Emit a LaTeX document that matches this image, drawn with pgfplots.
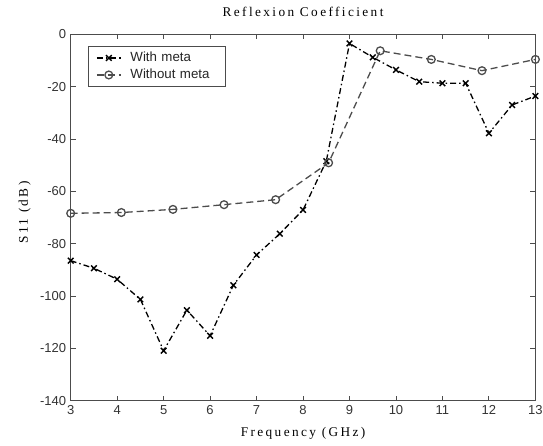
\documentclass[border=0pt]{standalone}
\usepackage{pgfplots}
\pgfplotsset{compat=1.18}
\usepackage{fontspec}
\setmainfont{Liberation Serif}
\newfontfamily\labelfont[LetterSpace=18]{Liberation Serif}
\newfontfamily\arial{Liberation Sans}
\begin{document}
\begin{tikzpicture}[x=1pt,y=1pt]
% frame of the whole picture, in reference pixels
\useasboundingbox (-70.7,-45.3) rectangle (472.3,400.7);
\begin{axis}[
    at={(0,0)}, anchor=south west,
    scale only axis,
    width=464.7pt,
    height=366.4pt,
    xmin=3, xmax=13,
    ymin=-140, ymax=0,
    xtick={3,4,...,13},
    ytick={-140,-120,...,0},
    tick align=inside,
    major tick length=5pt,
    axis line style={black!70, line width=0.9pt},
    tick style={black!70, line width=0.9pt},
    /pgf/number format/assume math mode=true,
    tick label style={font=\arial\fontsize{13}{15}\selectfont, text=black!80},
    xticklabel style={yshift=-1pt},
    yticklabel style={xshift=-1pt},
    title={Reflexion Coefficient},
    title style={font=\labelfont\fontsize{13.3}{15}\selectfont,
        at={(axis description cs:0.5,1)}, anchor=base, yshift=12pt},
    xlabel={Frequency (GHz)},
    ylabel={S11 (dB)},
    label style={font=\labelfont\fontsize{13.3}{15}\selectfont},
    xlabel style={at={(axis description cs:0.5,0)}, anchor=base, yshift=-36.3pt},
    ylabel style={at={(axis description cs:-0.0919,0.5136)}, anchor=base},
    legend style={at={(axis description cs:0.0366,0.968)}, anchor=north west,
        draw=black!70, line width=0.9pt,
        font=\arial\fontsize{13.3}{15}\selectfont, text=black!85,
        inner xsep=8pt, inner ysep=6pt, row sep=6pt, column sep=9pt,
        nodes={inner sep=0pt, text height=9.5pt, text depth=1.5pt,
               text width=87pt, align=left}},
    legend cell align=left,
    legend image code/.code={
        \draw[mark repeat=2, mark phase=2]
            plot coordinates {(0pt,0pt) (12pt,0pt) (24pt,0pt)};},
]
\addplot[black, line width=1.3pt, dash pattern=on 6pt off 3pt on 1.5pt off 3pt,
    mark=x, mark size=4pt, mark options={solid, line width=1.4pt}]
coordinates {
(3,-86.5) (3.5,-89.4) (4,-93.6) (4.5,-101.3) (5,-120.9) (5.5,-105.4)
(6,-115.2) (6.5,-95.9) (7,-84.3) (7.5,-76.2) (8,-67.1) (8.5,-48.5)
(9,-3.5) (9.5,-8.8) (10,-13.6) (10.5,-18.1) (11,-18.7) (11.5,-18.7)
(12,-37.8) (12.5,-27) (13,-23.6)
};
\addplot[black!70, line width=1.3pt, dash pattern=on 7pt off 4pt,
    mark=o, mark size=3.9pt, mark options={solid, line width=1.3pt}]
coordinates {
(3,-68.4) (4.09,-68.1) (5.2,-66.9) (6.3,-65.1) (7.41,-63.2)
(8.55,-49.1) (9.66,-6.3) (10.76,-9.6) (11.85,-13.9) (13,-9.6)
};
\legend{With meta, Without meta}
\end{axis}
\end{tikzpicture}
\end{document}
